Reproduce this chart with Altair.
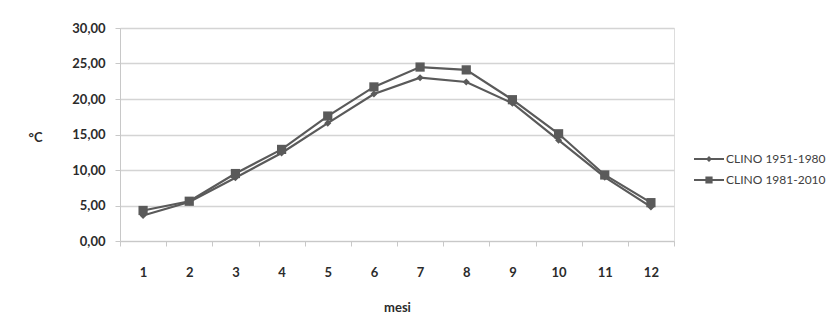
import altair as alt
import pandas as pd

# Monthly mean temperature (°C), two climatological normals
months = list(range(1, 13))
series_names = ["CLINO 1951-1980", "CLINO 1981-2010"]
clino_1951_1980 = [3.6, 5.5, 8.9, 12.4, 16.6, 20.7, 23.0, 22.4, 19.4, 14.2, 9.0, 4.8]
clino_1981_2010 = [4.3, 5.6, 9.5, 12.9, 17.6, 21.7, 24.5, 24.1, 19.9, 15.1, 9.3, 5.4]
y_ticks = [0, 5, 10, 15, 20, 25, 30]

rows = []
for name, vals in zip(series_names, [clino_1951_1980, clino_1981_2010]):
    for m, v in zip(months, vals):
        rows.append({"mese": m, "temp": v, "serie": name})
df = pd.DataFrame(rows)

GREY = "#5a5a5a"
FONT = "Lato"

x_enc = alt.X(
    "mese:O",
    title="mesi",
    scale=alt.Scale(paddingInner=0, paddingOuter=0),
    axis=alt.Axis(
        labelAngle=0, tickBand="extent", grid=False,
        domainColor="#c8c8c8", tickColor="#c8c8c8", tickSize=5,
        labelPadding=20, labelFont=FONT, labelFontSize=13, labelFontWeight="bold",
        labelColor="#2b2b2b", titleFont=FONT, titleFontSize=13, titleFontWeight="bold",
        titleColor="#2b2b2b", titleY=66, titleBaseline="middle",
    ),
)
y_enc = alt.Y(
    "temp:Q",
    title="°C",
    scale=alt.Scale(domain=[0, 30], nice=False, zero=True),
    axis=alt.Axis(
        values=y_ticks,
        labelExpr="replace(format(datum.value, '.2f'), '.', ',')",
        gridColor="#d4d4d4", gridWidth=1.3, domainColor="#c8c8c8",
        tickColor="#c8c8c8", tickSize=5, labelPadding=10,
        labelFont=FONT, labelFontSize=13, labelFontWeight="bold", labelColor="#2b2b2b",
        titleAngle=0, titleFont=FONT, titleFontSize=13, titleFontWeight="bold",
        titleColor="#2b2b2b", titleX=-85, titleY=109, titleAlign="center",
        titleBaseline="middle",
    ),
)

base = alt.Chart(df)

lines = base.mark_line(color=GREY, strokeWidth=2.2).encode(
    x=x_enc, y=y_enc, detail="serie:N"
)

points = base.mark_point(filled=True, color=GREY, opacity=1).encode(
    x=x_enc,
    y=y_enc,
    shape=alt.Shape("serie:N", scale=alt.Scale(domain=series_names, range=["diamond", "square"]), legend=None),
    size=alt.Size("serie:N", scale=alt.Scale(domain=series_names, range=[50, 85]), legend=None),
)

# Legend entries: a short line (thin filled bar) with the series marker on it
legend_paths = [
    "M-1,-0.06H1V0.06H-1ZM-0.2,0L0,-0.2L0.2,0L0,0.2Z",
    "M-1,-0.06H1V0.06H-1ZM-0.24,-0.24H0.24V0.24H-0.24Z",
]
legend_layer = base.mark_point(filled=True, color=GREY, opacity=0, size=1).encode(
    x=x_enc,
    y=y_enc,
    shape=alt.Shape(
        "serie:N",
        scale=alt.Scale(domain=series_names, range=legend_paths),
        legend=alt.Legend(
            title=None, orient="none", legendX=574, legendY=116,
            symbolSize=900, symbolOpacity=1, symbolFillColor=GREY,
            symbolStrokeColor=GREY, symbolStrokeWidth=0,
            labelFont=FONT, labelFontSize=12, labelColor="#404040",
            labelOffset=2, rowPadding=-3,
        ),
    ),
)

chart = (
    alt.layer(lines, points, legend_layer)
    .resolve_scale(shape="independent", size="independent")
    .properties(
        width=554, height=213,
        autosize=alt.AutoSizeParams(type="none"),
        padding={"left": 120, "top": 28, "right": 163, "bottom": 90},
    )
    .configure_view(stroke=None)
    .configure(background="white")
)

chart.save("out.html", embed_options={"renderer": "svg", "actions": False})
